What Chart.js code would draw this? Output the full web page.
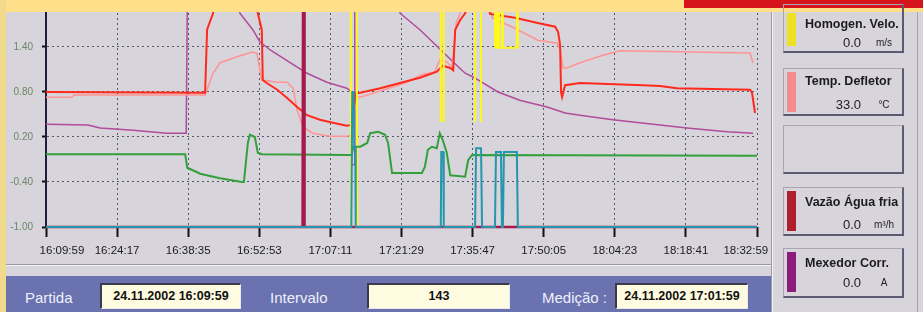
<!DOCTYPE html>
<html>
<head>
<meta charset="utf-8">
<script src="https://cdn.jsdelivr.net/npm/chart.js@4.4.1/dist/chart.umd.min.js"></script>
<style>
    body { margin: 0; width: 923px; height: 312px; overflow: hidden; position: relative;
           background: #d7d4dc; font-family: "Liberation Sans", Arial, sans-serif; }
    .abs { position: absolute; }
    .t { position: absolute; white-space: nowrap; line-height: 14px; }
    #wrap { left: 0; top: 0; width: 770px; height: 268px; }
    .box { position: absolute; left: 783px; width: 121px; box-sizing: border-box;
           border: 1px solid #a8a6b4; border-right: 2px solid #5c5a70; border-bottom: 2px solid #5c5a70; }
    .sw { position: absolute; left: 787px; width: 9px; }
    .lbl { left: 805px; font-weight: bold; font-size: 12.5px; color: #1c1c1c; }
    .val { left: 800px; width: 61px; text-align: right; font-size: 13px; color: #222; }
    .unit { left: 870px; width: 28px; text-align: center; font-size: 10px; color: #222; }
    .bl { color: #eef0fb; font-size: 15px; line-height: 18px; }
    .fld { position: absolute; top: 283px; height: 26px; box-sizing: border-box; background: #fffbe0;
           border-top: 2px solid #3a3a4a; border-left: 2px solid #3a3a4a; border-right: 1px solid #e8e8f0;
           border-bottom: 1px solid #e8e8f0; font-weight: bold; font-size: 12.5px; line-height: 22px;
           text-align: center; color: #111; }
</style>
</head>
<body>
<div id="wrap" class="abs"><canvas id="chart" width="770" height="268"></canvas></div>

<!-- frame pieces around the plot -->
<div class="abs" style="left:0;top:0;width:923px;height:12px;background:#ffe08a"></div>
<div class="abs" style="left:684px;top:0;width:239px;height:8px;background:#d6141c"></div>
<div class="abs" style="left:0;top:0;width:6px;height:312px;background:#f2da8c"></div>
<div class="abs" style="left:6px;top:264px;width:765px;height:1px;background:#9a98a8"></div>
<div class="abs" style="left:6px;top:265px;width:765px;height:1px;background:#f2f2f6"></div>
<div class="abs" style="left:771px;top:12px;width:1px;height:300px;background:#9a98a8"></div>
<div class="abs" style="left:772px;top:12px;width:1px;height:300px;background:#f2f2f6"></div>
<div class="abs" style="left:917px;top:12px;width:1px;height:300px;background:#a4a2b0"></div>

<!-- right hand legend boxes -->
<div class="box" style="top:4px;height:49px"></div>
<div class="sw" style="top:13px;height:33px;background:#ece222"></div>
<div class="t lbl" style="top:17px">Homogen. Velo.</div>
<div class="t val" style="top:36px">0.0</div>
<div class="t unit" style="top:36px">m/s</div>

<div class="box" style="top:68px;height:48px"></div>
<div class="sw" style="top:72px;height:40px;background:#f38c8c"></div>
<div class="t lbl" style="top:74px">Temp. Defletor</div>
<div class="t val" style="top:98px">33.0</div>
<div class="t unit" style="top:98px">°C</div>

<div class="box" style="top:125px;height:49px"></div>

<div class="box" style="top:187px;height:49px"></div>
<div class="sw" style="top:191px;height:40px;background:#b0202c"></div>
<div class="t lbl" style="top:195px">Vazão Água fria</div>
<div class="t val" style="top:218px">0.0</div>
<div class="t unit" style="top:218px">m³/h</div>

<div class="box" style="top:248px;height:50px"></div>
<div class="sw" style="top:252px;height:40px;background:#8c1c7c"></div>
<div class="t lbl" style="top:256px">Mexedor Corr.</div>
<div class="t val" style="top:276px">0.0</div>
<div class="t unit" style="top:276px">A</div>

<!-- bottom status bar -->
<div class="abs" style="left:6px;top:276px;width:765px;height:36px;background:#6a72b0"></div>
<div class="t bl" style="left:25px;top:289px">Partida</div>
<div class="fld" style="left:100px;width:141px">24.11.2002 16:09:59</div>
<div class="t bl" style="left:270px;top:289px">Intervalo</div>
<div class="fld" style="left:367px;width:143px">143</div>
<div class="t bl" style="left:542px;top:289px">Medição :</div>
<div class="fld" style="left:615px;width:133px">24.11.2002 17:01:59</div>

<script>
// time axis: minutes after 16:09:59
const startTime = '16:09:59';
const tickLabels = ['16:09:59', '16:24:17', '16:38:35', '16:52:53', '17:07:11', '17:21:29',
                    '17:35:47', '17:50:05', '18:04:23', '18:18:41', '18:32:59'];
const yTicks = [-1.0, -0.4, 0.2, 0.8, 1.4];
const yMin = -1.0;
const yMax = 1.853;

// values above ~1.85 run off the top of the plot
const redTime = [0, 32.0, 32.4, 32.6, 33.6, 34.0, 42.2, 42.6, 43.4, 43.6, 44.4, 46.5, 48.5, 50.5, 52.5,
                 55.1, 57.7, 60.5, 61.5, 62.3, 63.2, 67.2, 71.2, 75.2, 78.6, 79.8, 81.3, 81.9, 82.1,
                 82.3, 83.3, 84.3, 85.3, 88.5, 89.3, 94.3, 98.9, 102.4, 103.0, 103.4, 103.6, 103.8,
                 104.4, 107.4, 120.1, 123.5, 126.9, 134.1, 141.6, 142.0, 142.6];
const redVal = [0.80, 0.79, 1.63, 1.67, 1.85, 2.2, 2.2, 1.85, 1.63, 0.96, 0.92, 0.83, 0.72, 0.60, 0.49,
                0.43, 0.39, 0.35, 0.36, 0.78, 0.79, 0.85, 0.92, 0.99, 1.07, 1.15, 1.12, 1.09, 1.36,
                1.63, 1.76, 1.85, 2.2, 2.2, 1.84, 1.79, 1.72, 1.67, 1.60, 1.43, 0.79, 0.73,
                0.89, 0.92, 0.89, 0.88, 0.85, 0.84, 0.83, 0.79, 0.52];

const pinkTime = [0, 5.2, 5.6, 32.0, 33.6, 35.0, 38.4, 41.4, 42.4, 43.4, 46.5, 48.5, 49.7, 50.5, 51.7,
                  53.7, 57.1, 60.5, 61.5, 62.3, 64.2, 72.2, 75.6, 78.2, 79.2, 80.6, 81.7, 82.1, 82.5,
                  83.3, 84.3, 88.9, 89.7, 94.3, 98.9, 102.8, 103.4, 104.0, 104.8, 107.4, 112.0, 115.4,
                  141.6, 142.2];
const pinkVal = [0.73, 0.73, 0.76, 0.76, 1.05, 1.19, 1.27, 1.33, 1.32, 0.96, 0.93, 0.93, 0.85, 0.56, 0.33,
                 0.25, 0.21, 0.21, 0.23, 0.72, 0.75, 0.92, 1.03, 1.07, 1.23, 1.20, 1.13, 1.43, 1.72,
                 1.85, 2.2, 2.2, 1.79, 1.65, 1.49, 1.45, 1.36, 1.12, 1.12, 1.19, 1.29, 1.35,
                 1.32, 1.19];

const purpleTime = [0, 8.4, 10.9, 17.5, 24.3, 28.2, 28.4, 28.6, 38.6, 39.0, 41.6, 43.0, 45.1, 49.1, 52.5,
                    56.5, 60.5, 61.3, 61.5, 62.0, 62.1, 62.3, 70.6, 71.2, 75.2, 78.8, 81.9, 84.3, 85.9,
                    90.9, 95.3, 97.7, 100.8, 104.4, 107.4, 114.0, 128.9, 137.0, 142.2];
const purpleVal = [0.37, 0.36, 0.32, 0.29, 0.25, 0.25, 1.85, 2.2, 2.2, 1.85, 1.63, 1.47, 1.36, 1.19, 1.05,
                   0.93, 0.85, 0.81, -0.17, -0.17, 1.85, 2.2, 2.2, 1.85, 1.63, 1.40, 1.20, 1.05, 1.00,
                   0.80, 0.69, 0.65, 0.60, 0.52, 0.49, 0.43, 0.32, 0.27, 0.25];

const greenTime = [0, 28.0, 28.4, 30.4, 31.0, 35.0, 39.4, 39.8, 40.6, 41.0, 42.0, 42.6, 43.4, 60.5, 61.5,
                   61.8, 63.2, 64.6, 65.2, 66.8, 68.2, 68.8, 69.6, 75.6, 76.2, 76.8, 77.6, 78.6, 79.2,
                   79.8, 80.6, 81.3, 84.3, 84.9, 85.7, 143.0];
const greenVal = [-0.03, -0.03, -0.21, -0.27, -0.29, -0.35, -0.40, -0.40, 0.12, 0.23, 0.20, -0.01, -0.03, -0.04, -0.04,
                  0.07, 0.07, 0.12, 0.25, 0.27, 0.23, 0.12, -0.28, -0.28, -0.20, 0.03, 0.07, 0.05, 0.25,
                  0.16, -0.01, -0.31, -0.33, -0.11, -0.04, -0.05];

const tealTime = [0, 61.4, 61.6, 61.9, 62.0, 62.2, 62.3, 79.4, 79.5, 79.9, 80.0, 86.3, 86.5, 87.5, 87.7,
                  90.3, 90.5, 91.5, 91.7, 91.9, 92.1, 94.7, 94.9, 143.0];
const tealVal = [-1, -1, 0.80, 0.80, 0.07, 0.07, -1, -1, 0.0, 0.0, -1, -1, 0.05, 0.05, -1,
                 -1, 0.0, 0.0, -1, -1, 0.0, 0.0, -1, -1];

const waterTime = [0, 51.6, 51.7, 51.9, 52.0, 143.0];
const waterVal = [-1, -1, 2.2, 2.2, -1, -1];

// null = no line (gap)
const veloTime = [61.2, 61.3, 62.5, 62.6, 63.0,
                  79.4, 79.4, 80.0, 80.0, 80.5,
                  86.3, 86.3, 87.5, 87.5, 88.0,
                  90.3, 90.3, 90.5, 90.5, 90.9, 90.9, 91.1, 91.1, 91.7, 91.7, 91.9, 91.9,
                  94.7, 94.7, 94.9, 94.9];
const veloVal = [-1, 2.2, 2.2, -1, null,
                 0.40, 2.2, 2.2, 0.40, null,
                 0.40, 2.2, 2.2, 0.40, null,
                 1.39, 2.2, 2.2, 1.39, 1.39, 2.2, 2.2, 1.39, 1.39, 2.2, 2.2, 1.39,
                 1.39, 2.2, 2.2, 1.39];

const toMinutes = s => {
    const [h, m, sec] = s.split(':').map(Number);
    return h * 60 + m + sec / 60;
};
const tickMinutes = tickLabels.map(l => +(toMinutes(l) - toMinutes(startTime)).toFixed(3));

const points = (times, vals) => times.map((t, i) => ({ x: t, y: vals[i] }));

const series = (data, color, width, order) => ({
    data: data,
    borderColor: color,
    borderWidth: width,
    pointRadius: 0,
    tension: 0,
    spanGaps: false,
    clip: { left: 0, right: 0, top: 12, bottom: 3 },
    order: order
});

const gridDash = [2, 3];
const labelFont = { family: '"Liberation Sans", Arial, sans-serif', size: 11.5 };

// keep the plot box fixed, whatever the tick labels need
const fixPadding = scale => {
    scale.paddingLeft = 0;
    scale.paddingRight = 0;
    scale.paddingTop = 0;
    scale.paddingBottom = 0;
};

// first and last time labels sit pulled inwards, like in the original screen
const tickText = i => {
    if (i === 0) return ' '.repeat(10) + tickLabels[i];
    if (i === tickLabels.length - 1) return tickLabels[i] + ' '.repeat(7);
    return tickLabels[i];
};

new Chart(document.getElementById('chart').getContext('2d'), {
    type: 'line',
    data: {
        datasets: [
            series(points(tealTime, tealVal), '#2596ad', 2, 0),
            series(points(waterTime, waterVal), '#a8184a', 2.5, 1),
            series(points(greenTime, greenVal), '#34a03c', 2, 2),
            series(points(veloTime, veloVal), '#fff81c', 2, 3),
            series(points(redTime, redVal), '#ff2a1c', 2, 4),
            series(points(pinkTime, pinkVal), '#ff9494', 1.5, 5),
            series(points(purpleTime, purpleVal), '#b04c9c', 1.5, 6)
        ]
    },
    options: {
        responsive: false,
        animation: false,
        layout: { padding: { top: 13, right: 13, left: 0, bottom: 0 } },
        plugins: { legend: { display: false }, tooltip: { enabled: false } },
        scales: {
            x: {
                type: 'linear',
                min: 0,
                max: tickMinutes[tickMinutes.length - 1],
                afterBuildTicks: scale => { scale.ticks = tickMinutes.map(v => ({ value: v })); },
                afterFit: scale => { scale.height = 41; fixPadding(scale); },
                grid: { color: '#55556a', lineWidth: 1, tickColor: '#111', tickWidth: 2,
                        tickLength: 10, tickBorderDash: [] },
                border: { display: false, dash: gridDash },
                ticks: {
                    color: '#1a1a1a',
                    font: labelFont,
                    padding: 7,
                    maxRotation: 0,
                    autoSkip: false,
                    callback: value => {
                        const i = tickMinutes.findIndex(m => Math.abs(m - value) < 0.01);
                        return i >= 0 ? tickText(i) : '';
                    }
                }
            },
            y: {
                min: yMin,
                max: yMax,
                afterBuildTicks: scale => { scale.ticks = yTicks.map(v => ({ value: v })); },
                afterFit: scale => { scale.width = 46; fixPadding(scale); },
                grid: { color: '#55556a', lineWidth: 1, tickColor: '#111', tickWidth: 2,
                        tickLength: 4, tickBorderDash: [] },
                border: { display: true, color: '#1e1e3c', width: 2, dash: gridDash },
                ticks: {
                    color: '#6f8565',
                    font: { family: '"Liberation Sans", Arial, sans-serif', size: 10 },
                    padding: 9,
                    callback: value => value.toFixed(2)
                }
            }
        }
    }
});
</script>
</body>
</html>
